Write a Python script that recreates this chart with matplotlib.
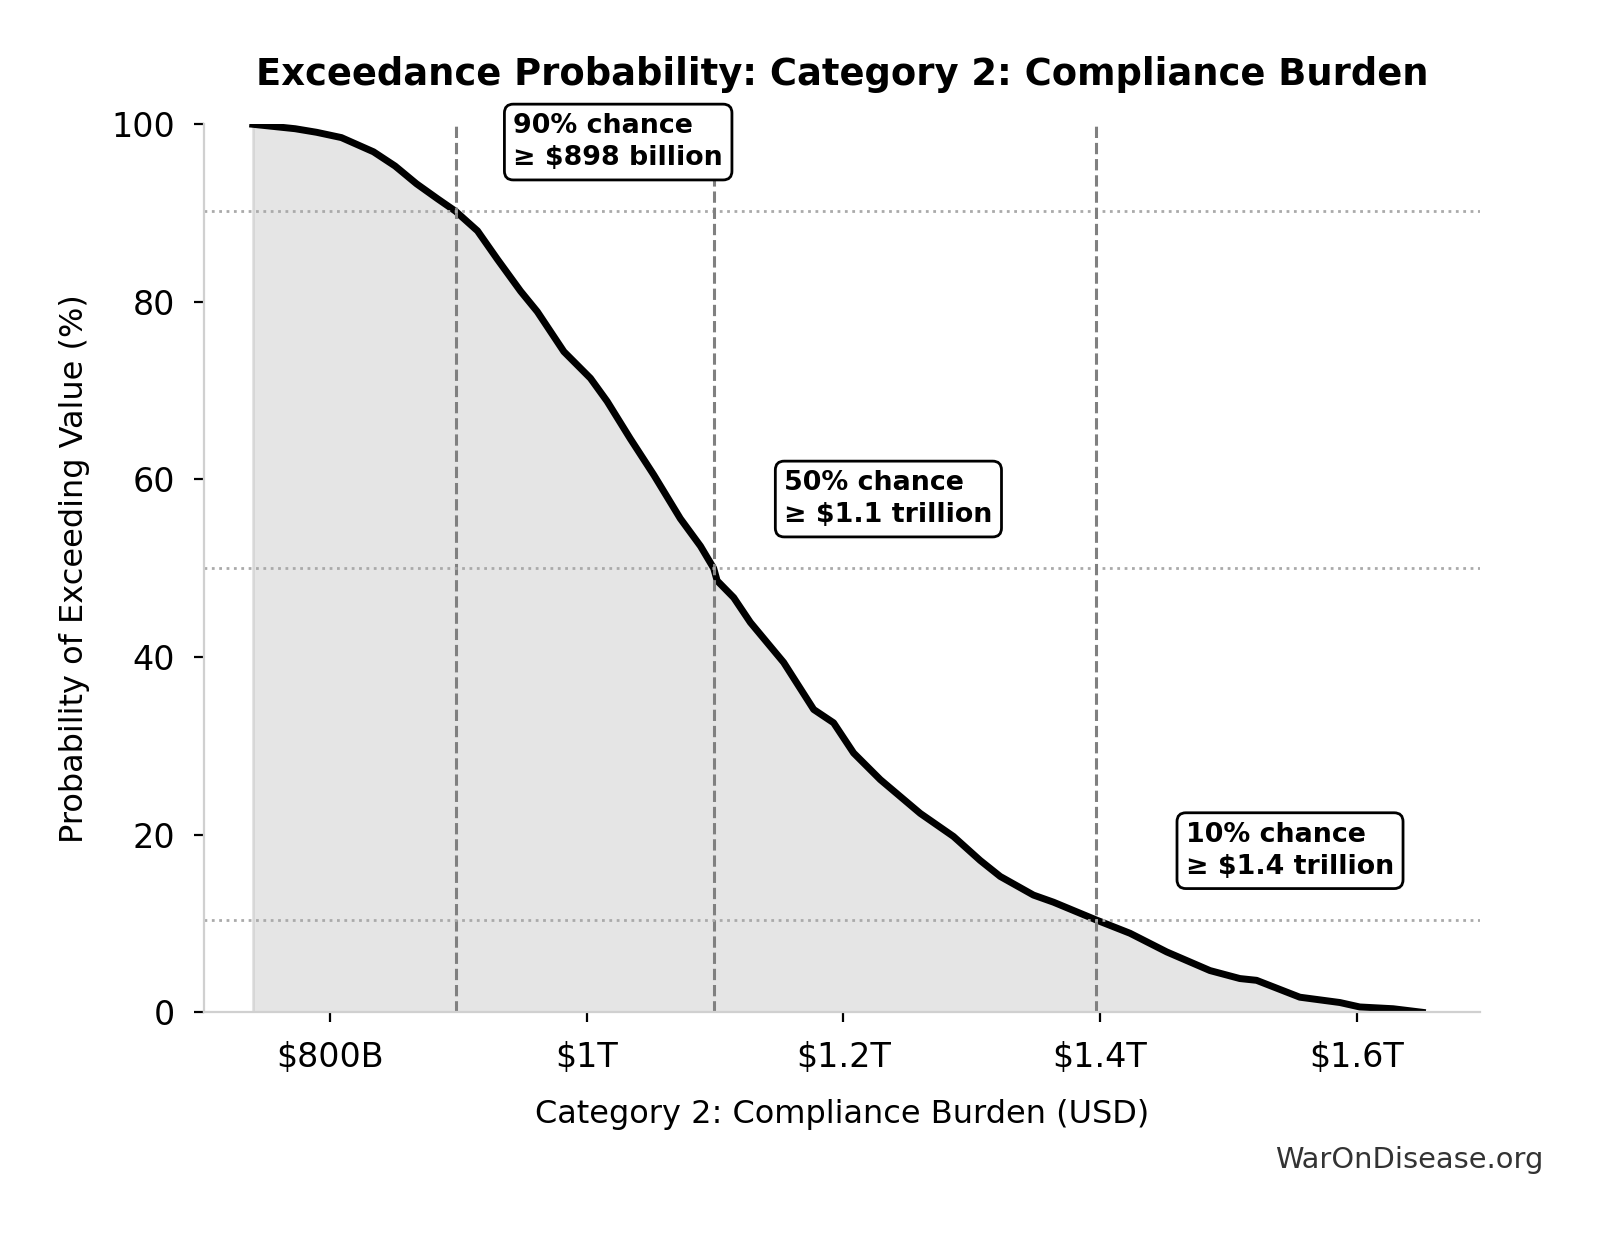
""" Curva de probabilidad de excedencia: Category 2 """

import matplotlib
matplotlib.use("Agg")
import matplotlib.pyplot as plt
from matplotlib.ticker import FuncFormatter

# valores en miles de millones de USD, probabilidad en %
valores = [740, 773, 789.6, 809, 834, 850.8, 867.5, 884, 898, 915, 930.5, 948.6,
           961.6, 982.3, 1003, 1016, 1034, 1052.4, 1073, 1088.7, 1099, 1101.7,
           1114.6, 1127.6, 1153.5, 1176.9, 1192.4, 1208, 1228.8, 1259.9, 1285.8,
           1306.6, 1322.2, 1348.1, 1363.7, 1397, 1423.3, 1451.9, 1485.6, 1508.9,
           1521.9, 1555.6, 1586.8, 1602.3, 1628.3, 1651]
prob = [100, 99.5, 99.1, 98.5, 96.9, 95.3, 93.3, 91.6, 90.2, 88.0, 84.8, 81.2,
        78.9, 74.4, 71.4, 68.8, 64.6, 60.5, 55.6, 52.5, 50.0, 48.6,
        46.7, 43.9, 39.4, 34.1, 32.6, 29.2, 26.2, 22.4, 19.8,
        17.1, 15.3, 13.2, 12.4, 10.4, 8.9, 6.8, 4.7, 3.8,
        3.6, 1.7, 1.1, 0.6, 0.4, 0.0]

percentiles = [90, 50, 10]
umbrales = [898, 1099, 1397]
prob_umbral = [90.2, 50.0, 10.4]
etiquetas = ["≥ $898 billion", "≥ $1.1 trillion", "≥ $1.4 trillion"]

ticks_x = [800, 1000, 1200, 1400, 1600]
TITULO = "Exceedance Probability: Category 2: Compliance Burden"
ETIQ_X = "Category 2: Compliance Burden (USD)"
ETIQ_Y = "Probability of Exceeding Value (%)"


def formato_usd(v, pos):
  if v >= 1000:
    return f"${v/1000:g}T"
  return f"${v:g}B"


fig = plt.figure(figsize=(8.015, 6.165), dpi=200)
ax = fig.add_axes([0.1273, 0.179, 0.796, 0.7202])

ax.fill_between(valores, prob, 0, color="gray", alpha=0.2)
ax.plot(valores, prob, color="black", lw=2.5)

for p, u, pu, t in zip(percentiles, umbrales, prob_umbral, etiquetas):
  ax.axvline(u, color="gray", ls="--", lw=1.1)
  ax.axhline(pu, color="#aaaaaa", ls=":", lw=1)
  ax.text(u * 1.05, pu + 7.8, f"{p}% chance\n{t}", fontsize=9.7, fontweight="bold",
          ha="left", va="center", linespacing=1.3,
          bbox=dict(boxstyle="round,pad=0.33", fc="white", ec="black", lw=1))

ax.set_xlim(702, 1696)
ax.set_ylim(0, 100)
ax.set_xticks(ticks_x)
ax.xaxis.set_major_formatter(FuncFormatter(formato_usd))
ax.tick_params(axis="both", labelsize=12, length=3.5, pad=7)

for s in ["top", "right"]:
  ax.spines[s].set_visible(False)
for s in ["left", "bottom"]:
  ax.spines[s].set_color("#d0d0d0")

ax.set_title(TITULO, fontsize=13.3, fontweight="bold", pad=14)
ax.set_xlabel(ETIQ_X, fontsize=11.5, labelpad=9)
ax.set_ylabel(ETIQ_Y, fontsize=11.5, labelpad=7.5)

fig.text(0.963, 0.059, "WarOnDisease.org", fontsize=10.4, color="#333333",
         ha="right", va="center")

fig.savefig("out.png", dpi=200)
